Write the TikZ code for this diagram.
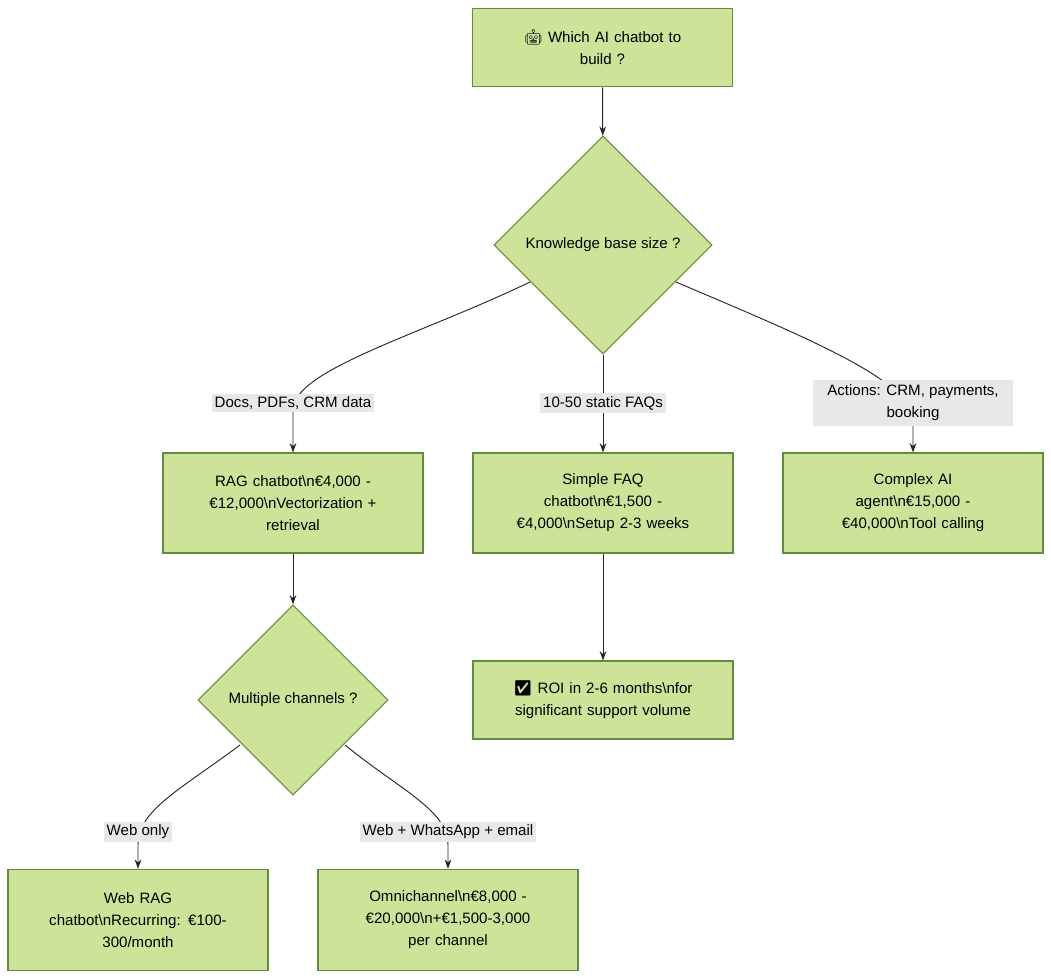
\documentclass[tikz,border=0pt]{standalone}
\usepackage{fontspec}
\setmainfont{Liberation Sans}
\newfontfamily\emo{Noto Emoji}
\usetikzlibrary{shapes.geometric,arrows.meta}
\definecolor{nfill}{HTML}{CDE498}
\definecolor{nline}{HTML}{5E8E3E}
\definecolor{lbg}{HTML}{E8E8E8}
\begin{document}
\begin{tikzpicture}[x=0.75pt,y=-0.75pt,font=\fontsize{11.3pt}{16.5pt}\selectfont,
 box/.style={draw=nline,fill=nfill,line width=0.8pt,minimum width=195pt,align=center,text width=180pt},
 dia/.style={draw=nline,fill=nfill,line width=0.8pt,diamond,inner sep=0pt,align=center},
 lbl/.style={fill=lbg,inner sep=2pt,align=center},
 arr/.style={draw=black!85,line width=0.7pt,-{Stealth[length=7pt,width=5pt]}}]
\useasboundingbox (0,0) rectangle (1051,980);
\node[box,minimum height=59pt] (top) at (602.5,47.5) {{\emo 🤖} Which AI chatbot to\\build ?};
\node[dia,minimum width=163.5pt,minimum height=163.5pt] (d1) at (603,245) {Knowledge base size ?};
\node[box,minimum height=75pt] (rag) at (293,503) {RAG chatbot\textbackslash n€4,000 -\\€12,000\textbackslash nVectorization +\\retrieval};
\node[box,minimum height=75pt] (faq) at (603,503) {Simple FAQ\\chatbot\textbackslash n€1,500 -\\€4,000\textbackslash nSetup 2-3 weeks};
\node[box,minimum height=75pt] (cx) at (913,503) {Complex AI\\agent\textbackslash n€15,000 -\\€40,000\textbackslash nTool calling};
\node[dia,minimum width=142.5pt,minimum height=142.5pt] (d2) at (293,700) {Multiple channels ?};
\node[box,minimum height=58.5pt] (roi) at (603,700) {{\emo ✅} ROI in 2-6 months\textbackslash nfor\\significant support volume};
\node[box,minimum height=76pt] (web) at (138,920) {Web RAG\\chatbot\textbackslash nRecurring: €100-\\300/month};
\node[box,minimum height=76pt] (omni) at (448,920) {Omnichannel\textbackslash n€8,000 -\\€20,000\textbackslash n+€1,500-3,000\\per channel};
\draw[arr] (top) -- (d1);
\draw[arr] (d1.south) -- (faq);
\draw[arr] (rag) -- (d2);
\draw[arr] (faq) -- (roi);
\coordinate (a1) at (530,282);
\coordinate (a2) at (676,282);
\coordinate (b1) at (240,745);
\coordinate (b2) at (345,745);
\draw[arr] (a1) .. controls (420,335) and (293,370) .. (293,410) -- (rag);
\draw[arr] (a2) .. controls (800,335) and (913,380) .. (913,420) -- (cx);
\draw[arr] (b1) .. controls (180,790) and (138,810) .. (138,845) -- (web);
\draw[arr] (b2) .. controls (400,790) and (448,810) .. (448,845) -- (omni);
\node[lbl] (l1) at (293,403) {Docs, PDFs, CRM data};
\node[lbl] (l2) at (603,403) {10-50 static FAQs};
\node[lbl,minimum width=150pt,minimum height=35pt,inner sep=0pt] (l3) at (913,403) {Actions: CRM, payments,\\booking};
\node[lbl] (l4) at (138,832) {Web only};
\node[lbl] (l5) at (448,832) {Web + WhatsApp + email};
\end{tikzpicture}
\end{document}
